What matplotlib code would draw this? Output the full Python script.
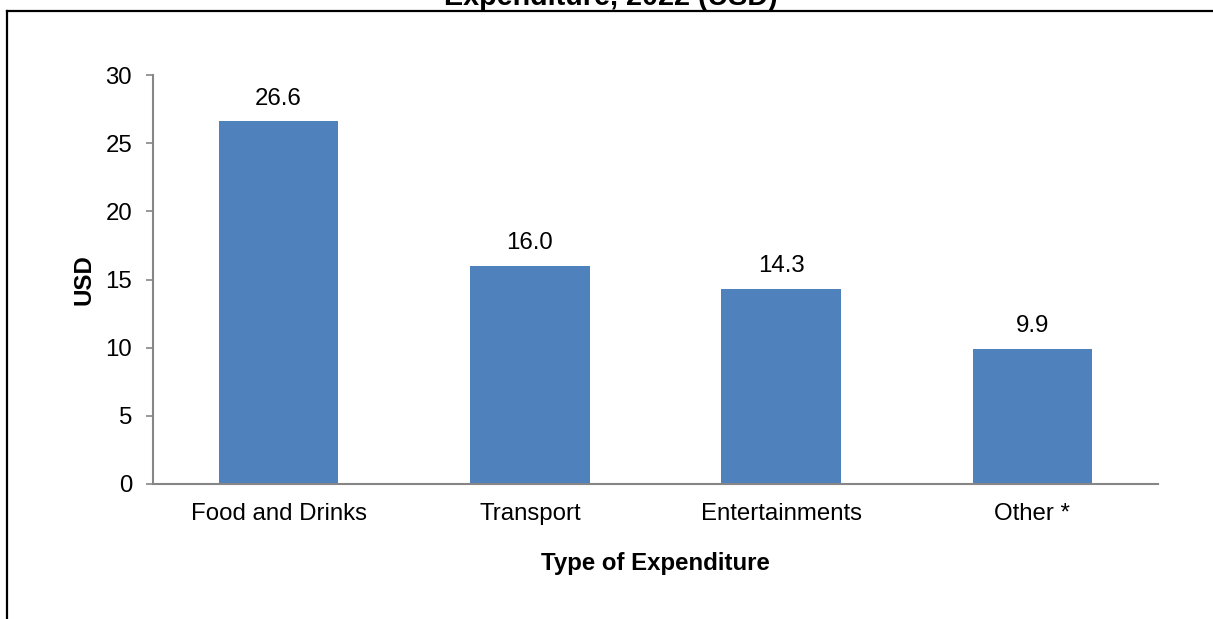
import matplotlib.pyplot as plt
from matplotlib.lines import Line2D

plt.rcParams['font.family'] = ['Liberation Sans', 'DejaVu Sans']

# chart data
categories = ['Food and Drinks', 'Transport', 'Entertainments', 'Other *']
values = [26.6, 16.0, 14.3, 9.9]
y_ticks = [0, 5, 10, 15, 20, 25, 30]

FS = 17.3
W, H = 1213, 619
fig = plt.figure(figsize=(W / 100, H / 100), dpi=100)
ax = fig.add_axes([153 / W, 1 - 484 / H, (1158 - 153) / W, (484 - 75) / H])

x = range(len(categories))
bars = ax.bar(x, values, width=0.476, color='#4F81BD')

# value labels above the bars
for b, v in zip(bars, values):
    ax.annotate(f'{v:.1f}', (b.get_x() + b.get_width() / 2, v),
                xytext=(0, 12), textcoords='offset points',
                ha='center', va='baseline', fontsize=FS)

ax.set_xlim(-0.5, len(categories) - 0.5)
ax.set_ylim(0, 30)
ax.set_yticks(y_ticks)
ax.set_xticks(list(x))
ax.set_xticklabels(categories, fontsize=FS)
ax.tick_params(axis='y', labelsize=FS, length=5, color='#868686', width=1.2, pad=10)
ax.tick_params(axis='x', length=0, pad=14)

for s in ['top', 'right']:
    ax.spines[s].set_visible(False)
for s in ['left', 'bottom']:
    ax.spines[s].set_color('#868686')
    ax.spines[s].set_linewidth(1.5)

ax.set_ylabel('USD', fontsize=FS, fontweight='bold', labelpad=7)
ax.set_xlabel('Type of Expenditure', fontsize=FS, fontweight='bold', labelpad=19)

# title, cut off at the top of the picture
fig.text(611 / W, 1 - 5 / H, 'Expenditure, 2022 (USD)', ha='center', va='baseline',
         fontsize=20.7, fontweight='bold')

# outer frame (left and top edges visible)
fig.add_artist(Line2D([7 / W, 7 / W], [-0.1, 1 - 11 / H], transform=fig.transFigure,
                      color='black', linewidth=1.6))
fig.add_artist(Line2D([7 / W, 1.1], [1 - 11 / H, 1 - 11 / H], transform=fig.transFigure,
                      color='black', linewidth=1.6))

fig.savefig('out.png', dpi=100)
